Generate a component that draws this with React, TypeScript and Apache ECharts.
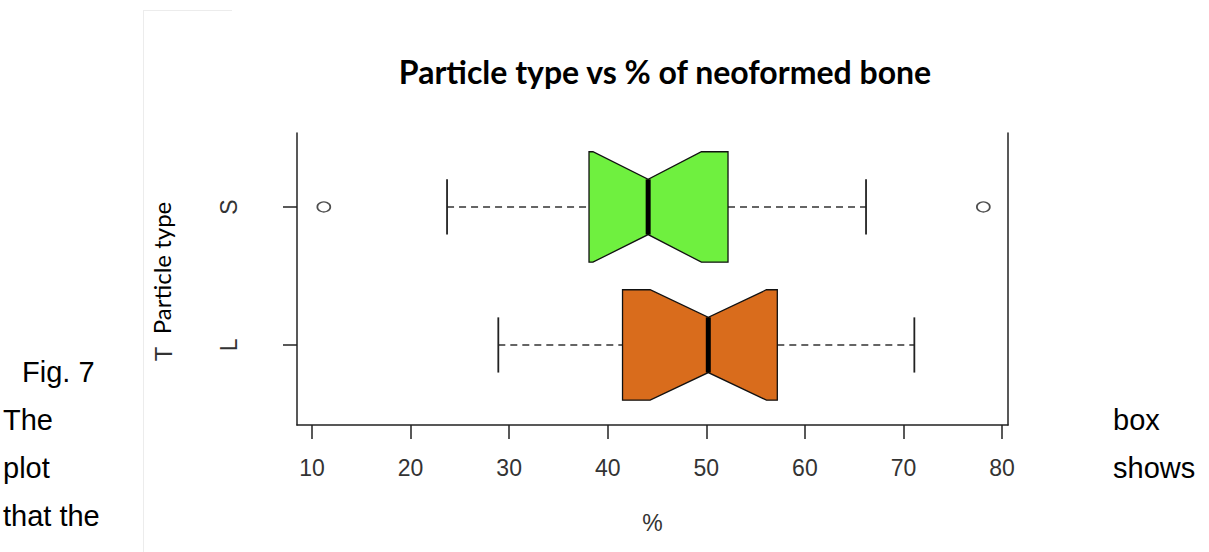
import React, { useEffect, useRef } from "react";
import * as echarts from "echarts";

// ---- data ----
const categories = ["L", "S"];
const whiskerLow = [28.9, 23.7];
const q1 = [41.5, 38.1];
const notchLow = [44.3, 38.5];
const median = [50.2, 44.1];
const notchHigh = [56.1, 49.5];
const q3 = [57.2, 52.2];
const whiskerHigh = [71.1, 66.2];
const outlierValues = [11.2, 78.1];
const outlierCategory = ["S", "S"];
const xTicks = [10, 20, 30, 40, 50, 60, 70, 80];
const fills = ["#d96c1c", "#6ff03f"];

const leftText = ["Fig. 7", "The", "plot", "that the"];
const rightText = ["box", "shows"];

export default function App() {
  const ref = useRef<HTMLDivElement>(null);

  useEffect(() => {
    if (!ref.current) return;
    const chart = echarts.init(ref.current, null, { renderer: "svg" });

    const boxData = categories.map((c, i) => [
      i + 1,
      whiskerLow[i],
      q1[i],
      notchLow[i],
      median[i],
      notchHigh[i],
      q3[i],
      whiskerHigh[i],
    ]);
    const outlierData = outlierValues.map((v, i) => [
      v,
      categories.indexOf(outlierCategory[i]) + 1,
    ]);

    const yMin = 0.42;
    const yMax = 0.42 + 292 / 138;

    const sideFont = '29px "Liberation Sans", Arial, sans-serif';
    const axisFont = '"Liberation Sans", Arial, sans-serif';
    const graphics: any[] = [
      // faint border of the pasted figure
      { type: "line", shape: { x1: 143.5, y1: 10, x2: 143.5, y2: 552 }, style: { stroke: "#ececec", lineWidth: 1 } },
      { type: "line", shape: { x1: 143, y1: 10.5, x2: 232, y2: 10.5 }, style: { stroke: "#ececec", lineWidth: 1 } },
      {
        type: "text",
        x: 665,
        y: 71,
        style: {
          text: "Particle type vs % of neoformed bone",
          font: 'bold 32px Lato, "Open Sans", sans-serif',
          fill: "#000",
          textAlign: "center",
          textVerticalAlign: "middle",
        },
      },
      {
        type: "text",
        x: 161,
        y: 268,
        rotation: Math.PI / 2,
        style: {
          text: "Particle type",
          font: '24px Lato, "Open Sans", sans-serif',
          fill: "#000",
          textAlign: "center",
          textVerticalAlign: "middle",
        },
      },
      {
        type: "text",
        x: 163,
        y: 354,
        rotation: Math.PI / 2,
        style: {
          text: "T",
          font: '24px "Liberation Sans", Arial, sans-serif',
          fill: "#333",
          textAlign: "center",
          textVerticalAlign: "middle",
        },
      },
    ];
    leftText.forEach((t, i) => {
      graphics.push({
        type: "text",
        x: i === 0 ? 22 : 3,
        y: 372 + i * 48,
        style: { text: t, font: sideFont, fill: "#000", textAlign: "left", textVerticalAlign: "middle" },
      });
    });
    rightText.forEach((t, i) => {
      graphics.push({
        type: "text",
        x: 1113,
        y: 420 + i * 48,
        style: { text: t, font: sideFont, fill: "#000", textAlign: "left", textVerticalAlign: "middle" },
      });
    });

    chart.setOption({
      animation: false,
      backgroundColor: "#fff",
      grid: { left: 297, top: 133, width: 711, height: 292, show: false },
      xAxis: {
        type: "value",
        min: 8.48,
        max: 80.6,
        name: "%",
        nameLocation: "middle",
        nameGap: 86,
        nameTextStyle: { fontSize: 23, color: "#333", fontFamily: axisFont },
        axisLine: { show: true, onZero: false, lineStyle: { color: "#222", width: 1.5 } },
        axisTick: { show: true, length: 14, customValues: xTicks, lineStyle: { color: "#222", width: 1.5 } },
        axisLabel: {
          show: true,
          customValues: xTicks,
          margin: 31,
          fontSize: 23,
          color: "#333",
          fontFamily: axisFont,
        },
        splitLine: { show: false },
      },
      yAxis: [
        {
          type: "value",
          min: yMin,
          max: yMax,
          axisLine: { show: true, onZero: false, lineStyle: { color: "#222", width: 1.5 } },
          axisTick: { show: true, length: 14, customValues: [1, 2], lineStyle: { color: "#222", width: 1.5 } },
          axisLabel: {
            show: true,
            customValues: [1, 2],
            formatter: (v: number) => categories[Math.round(v) - 1] ?? "",
            rotate: 90,
            margin: 57,
            fontSize: 23,
            color: "#333",
            fontFamily: axisFont,
          },
          splitLine: { show: false },
        },
        {
          type: "value",
          position: "right",
          min: yMin,
          max: yMax,
          axisLine: { show: true, onZero: false, lineStyle: { color: "#222", width: 1.5 } },
          axisTick: { show: false },
          axisLabel: { show: false },
          splitLine: { show: false },
        },
      ],
      graphic: graphics,
      series: [
        {
          type: "custom",
          yAxisIndex: 0,
          encode: { x: [1, 2, 3, 4, 5, 6, 7], y: 0 },
          data: boxData,
          renderItem: (params: any, api: any) => {
            const yv = api.value(0);
            const X = (v: number) => api.coord([v, yv])[0];
            const cy = api.coord([api.value(4), yv])[1];
            const h = api.size([0, 0.4])[1];
            const wl = X(api.value(1));
            const b1 = X(api.value(2));
            const nl = X(api.value(3));
            const md = X(api.value(4));
            const nh = X(api.value(5));
            const b3 = X(api.value(6));
            const wh = X(api.value(7));
            const dash = { stroke: "#333", lineWidth: 1.5, lineDash: [7, 5] };
            const solid = { stroke: "#222", lineWidth: 1.8 };
            return {
              type: "group",
              children: [
                { type: "line", shape: { x1: wl, y1: cy, x2: b1, y2: cy }, style: dash },
                { type: "line", shape: { x1: b3, y1: cy, x2: wh, y2: cy }, style: dash },
                { type: "line", shape: { x1: wl, y1: cy - h / 2, x2: wl, y2: cy + h / 2 }, style: solid },
                { type: "line", shape: { x1: wh, y1: cy - h / 2, x2: wh, y2: cy + h / 2 }, style: solid },
                {
                  type: "polygon",
                  shape: {
                    points: [
                      [b1, cy - h],
                      [nl, cy - h],
                      [md, cy - h / 2],
                      [nh, cy - h],
                      [b3, cy - h],
                      [b3, cy + h],
                      [nh, cy + h],
                      [md, cy + h / 2],
                      [nl, cy + h],
                      [b1, cy + h],
                    ],
                  },
                  style: { fill: fills[params.dataIndex], stroke: "#111", lineWidth: 1.3 },
                },
                { type: "line", shape: { x1: md, y1: cy - h / 2, x2: md, y2: cy + h / 2 }, style: { stroke: "#000", lineWidth: 5 } },
              ],
            };
          },
        },
        {
          type: "scatter",
          yAxisIndex: 0,
          data: outlierData,
          symbol: "circle",
          symbolSize: [13, 10],
          itemStyle: { color: "rgba(0,0,0,0)", borderColor: "#222", borderWidth: 1.5 },
        },
      ],
    });

    return () => chart.dispose();
  }, []);

  return (
    <div
      ref={ref}
      style={{ position: "absolute", left: 0, top: 0, width: 1209, height: 552 }}
    />
  );
}
